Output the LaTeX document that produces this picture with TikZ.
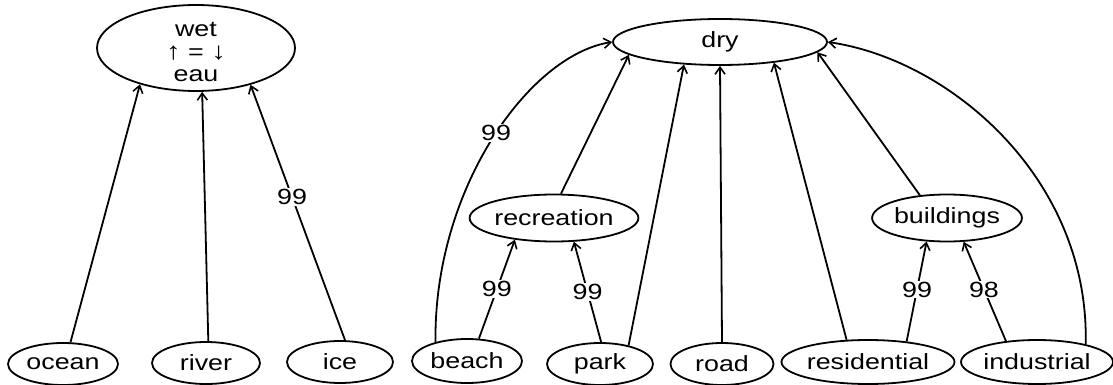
\documentclass[tikz,border=0pt]{standalone}
\usepackage{fontspec}
\setmainfont{Liberation Sans}[FakeStretch=1.22]
\usetikzlibrary{arrows.meta,shapes.geometric}
\newcommand{\bigarr}[1]{{\fontsize{24}{24}\selectfont\bfseries #1}}
\begin{document}
\begin{tikzpicture}[x=1pt,y=-1pt,
  every node/.style={font=\fontsize{22}{22.5}\selectfont},
  ell/.style={draw, ellipse, line width=1.8pt, inner sep=0pt},
  edge/.style={draw, line width=1.8pt, -{Straight Barb[length=7pt,width=10pt,line width=1.6pt]}},
  lbl/.style={fill=white, inner sep=1pt}]
\useasboundingbox (0,0) rectangle (1113,385);
% top nodes
\node[ell, minimum width=198pt, minimum height=86pt] (wet) at (196,48)
  {\raisebox{-12pt}[0pt][0pt]{\begin{tabular}{@{}c@{}}wet\\\bigarr{↑} = \bigarr{↓}\\eau\end{tabular}}};
\node[ell, minimum width=214pt, minimum height=46pt] (dry) at (720,42) {dry};
% middle nodes
\node[ell, minimum width=158pt, minimum height=47pt] (recreation) at (554,218) {recreation};
\node[ell, minimum width=137pt, minimum height=47pt] (buildings) at (947,218) {buildings};
% bottom nodes
\node[ell, minimum width=110pt, minimum height=42pt] (ocean) at (63,364) {ocean};
\node[ell, minimum width=108pt, minimum height=42pt] (river) at (206,363) {river};
\node[ell, minimum width=106pt, minimum height=42pt] (ice) at (340,362) {ice};
\node[ell, minimum width=110pt, minimum height=44pt] (beach) at (467,361) {beach};
\node[ell, minimum width=106pt, minimum height=42pt] (park) at (600,364) {park};
\node[ell, minimum width=103pt, minimum height=42pt] (road) at (722,364) {road};
\node[ell, minimum width=160pt, minimum height=44pt] (residential) at (868,362) {residential};
\node[ell, minimum width=147pt, minimum height=44pt] (industrial) at (1037,362) {industrial};
% edges to wet
\draw[edge] (ocean.71) -- (wet.-147);
\draw[edge] (river.84) -- (wet.-82);
\draw[edge] (ice.77) -- node[lbl, pos=0.56] {99} (wet.-34);
% edges to dry
\draw[edge] (beach.149) .. controls +(-2,-153) and +(-83,13) .. node[lbl, pos=0.52] {99} (dry.west);
\draw[edge] (recreation.74) -- (dry.-172);
\draw[edge] (park.33) -- (dry.-148);
\draw[edge] (road.north) -- (dry.south);
\draw[edge] (residential.134) -- (dry.-21);
\draw[edge] (buildings.140) -- (dry.-6);
\draw[edge] (industrial.20) .. controls +(4,-165) and +(123,18) .. (dry.east);
% edges to middle nodes
\draw[edge] (beach.62) -- node[lbl, pos=0.5] {99} (recreation.-151);
\draw[edge] (park.87) -- node[lbl, pos=0.5] {99} (recreation.-50);
\draw[edge] (residential.28) -- node[lbl, pos=0.52] {99} (buildings.-131);
\draw[edge] (industrial.146) -- node[lbl, pos=0.52] {98} (buildings.-55);
\end{tikzpicture}
\end{document}
